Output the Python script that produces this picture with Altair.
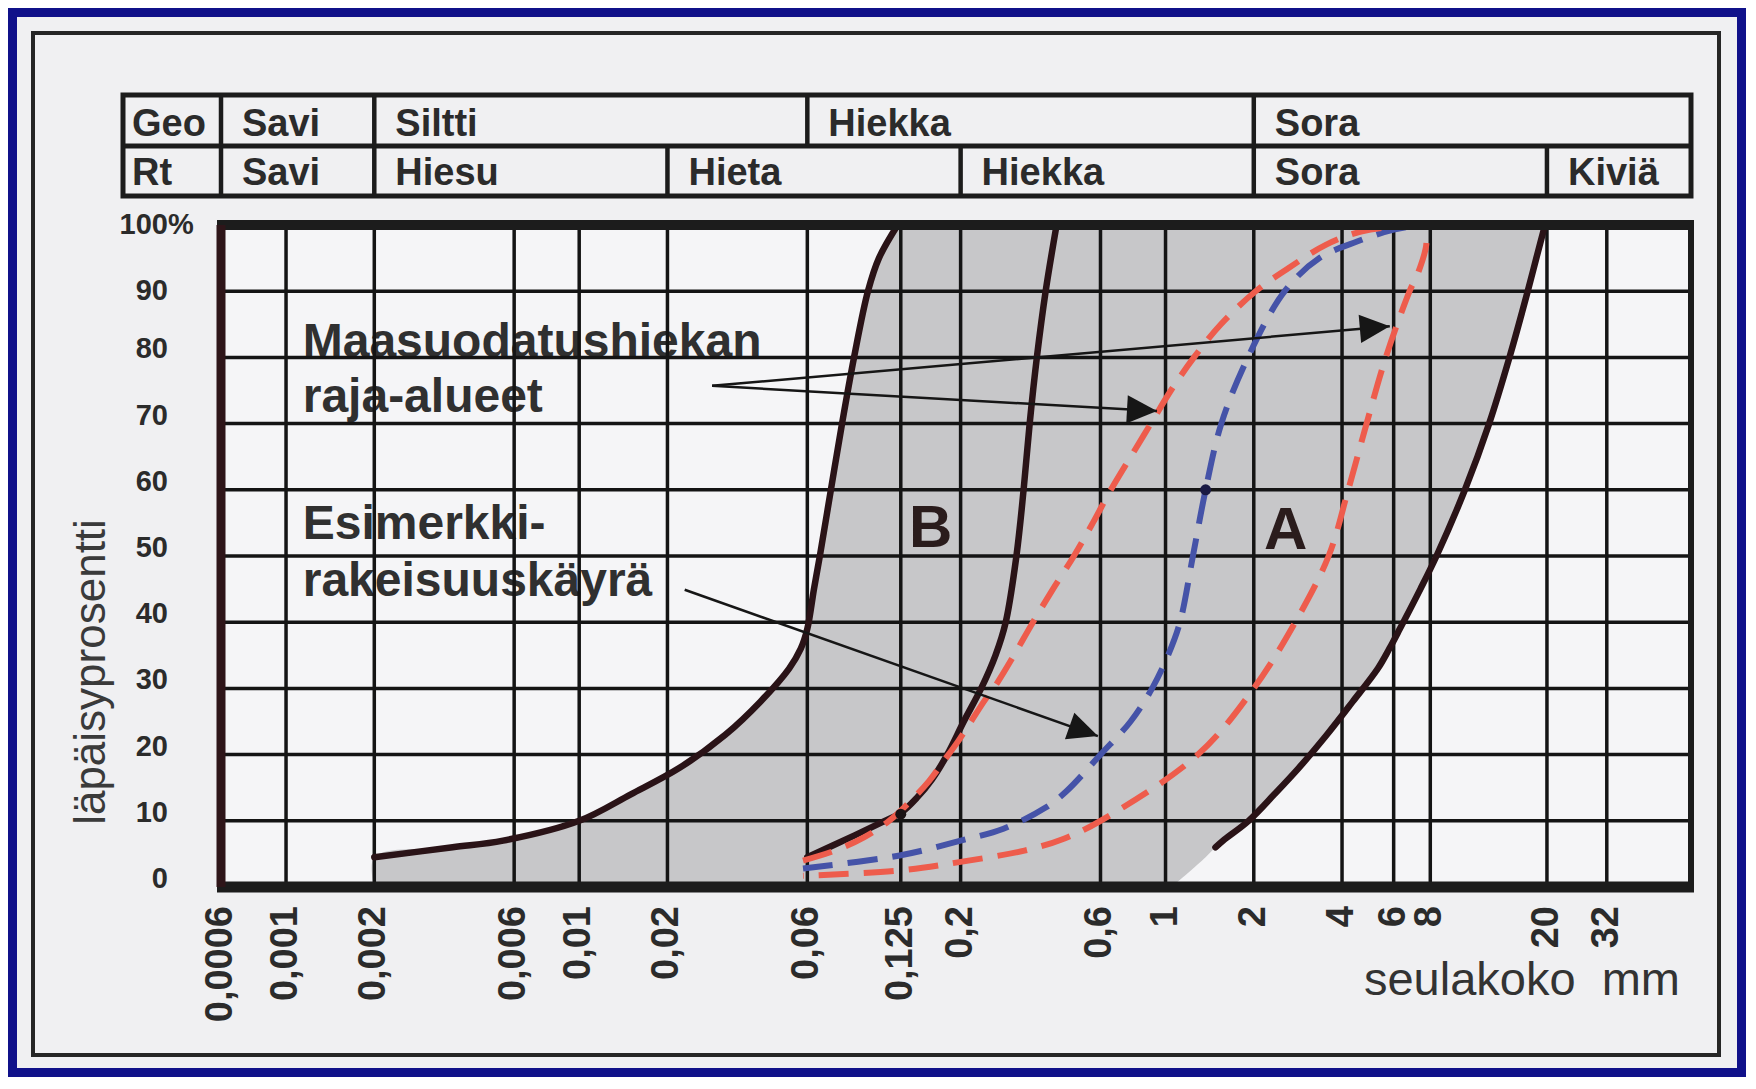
import math
import altair as alt
import pandas as pd

# ------------------------------------------------------------------ data
X_TICKS = [0.0006, 0.001, 0.002, 0.006, 0.01, 0.02, 0.06, 0.125, 0.2, 0.6,
           1, 2, 4, 6, 8, 20, 32]
X_TICK_LABELS = ["0,0006", "0,001", "0,002", "0,006", "0,01", "0,02", "0,06",
                 "0,125", "0,2", "0,6", "1", "2", "4", "6", "8", "20", "32"]
Y_TICKS = [0, 10, 20, 30, 40, 50, 60, 70, 80, 90, 100]
Y_TICK_LABELS = ["0", "10", "20", "30", "40", "50", "60", "70", "80", "90", "100"]
Y_GRID = [10, 20, 30, 40, 50, 60, 70, 80, 90]

GEO_LABELS = ["Savi", "Siltti", "Hiekka", "Sora"]
GEO_STARTS = [0.0006, 0.002, 0.06, 2]
RT_LABELS = ["Savi", "Hiesu", "Hieta", "Hiekka", "Sora", "Kiviä"]
RT_STARTS = [0.0006, 0.002, 0.02, 0.2, 2, 20]

# grey envelope: left and right boundary curves read at common percent levels
ENV_Y = [0, 4.5, 6, 7, 10, 14, 18, 23, 28, 33, 36, 39, 45, 50, 60, 70, 80, 90, 95, 100]
ENV_LEFT_X = [0.002, 0.002, 0.0037, 0.0055, 0.010, 0.015, 0.022, 0.0315, 0.0415,
              0.052, 0.057, 0.060, 0.0632, 0.0662, 0.0722, 0.0788, 0.0866,
              0.0966, 0.1053, 0.122]
ENV_RIGHT_X = [1.05, 1.37, 1.48, 1.57, 1.92, 2.35, 2.85, 3.55, 4.35, 5.3, 5.8,
               6.3, 7.4, 8.4, 10.5, 12.7, 14.9, 17.2, 18.4, 19.7]

# middle black curve (right limit of B)
MID_X = [0.06, 0.087, 0.108, 0.125, 0.142, 0.16, 0.18, 0.205, 0.235, 0.263,
         0.285, 0.31, 0.328, 0.344, 0.364, 0.39, 0.425]
MID_Y = [4.5, 7.8, 9.8, 11.2, 13.5, 16.3, 20, 25, 30, 35, 40, 50, 60, 70, 80, 90, 100]

# red dashed limits of area A (one loop: left limit up, right limit down)
RED_X = [0.058, 0.0745, 0.0936, 0.114, 0.135, 0.156, 0.175, 0.196, 0.217, 0.240,
         0.268, 0.304, 0.353, 0.413, 0.487, 0.565, 0.651, 0.761, 0.891, 1.043,
         1.25, 1.545, 2.03, 2.63, 3.52, 4.64, 6.35, 7.67, 7.75, 7.3, 6.8, 5.64,
         4.85, 4.2, 3.6, 2.77, 2.0, 1.29, 0.6, 0.45, 0.33, 0.2, 0.125, 0.058]
RED_Y = [4, 5.5, 7.5, 10, 13, 16, 19, 22, 25, 28, 31, 35, 40, 45, 50, 55, 60,
         65, 70, 75, 80, 85, 90, 93.5, 97, 99, 99.8, 99.6, 97, 93, 90, 80, 70,
         60, 50, 40, 30, 20, 10, 7.3, 5.5, 3.8, 2.5, 1.7]

# blue dashed example curve
BLUE_X = [0.058, 0.125, 0.2, 0.28, 0.39, 0.46, 0.6, 0.76, 0.90, 1.02, 1.12,
          1.24, 1.37, 1.55, 1.91, 2.55, 3.35, 4.5, 6.0, 7.5]
BLUE_Y = [2.8, 4.8, 7, 8.8, 12, 14.5, 20, 25, 30, 35, 40, 50, 60, 70, 80, 90,
          95, 97.5, 99.3, 100]

DOT_X = [0.125, 1.37]
DOT_Y = [11, 60]
DOT_COLORS = ["#1a1214", "#1a1a44"]

NOTE_TEXT = ["Maasuodatushiekan", "raja-alueet", "Esimerkki-", "rakeisuuskäyrä"]
NOTE_X = [0.00114, 0.00114, 0.00114, 0.00114]
NOTE_Y = [80, 71.75, 52.6, 43.95]

ARROW_X0 = [0.0284, 0.0284, 0.0229]
ARROW_Y0 = [75.7, 75.7, 44.9]
ARROW_X1 = [5.82, 0.935, 0.588]
ARROW_Y1 = [84.7, 71.9, 22.8]

AREA_LABELS = ["B", "A"]
AREA_X = [0.158, 2.57]
AREA_Y = [51.4, 51]

# ------------------------------------------------------------------ layout / style
W, H = 1470, 662
PAD_L, PAD_T, PAD_R, PAD_B = 213, 217, 55, 190
XDOM = [0.0006, 62]
FONT = "Liberation Sans"
INK = "#2b2b2b"
CURVE = "#2a1317"
RED = "#ee5c4c"
BLUE = "#4553a8"
GRID = "#141414"

xs = alt.Scale(type="log", domain=XDOM)
ys = alt.Scale(domain=[0, 100])


def X(f):
    return alt.X(f"{f}:Q", scale=xs, axis=None)


def Y(f):
    return alt.Y(f"{f}:Q", scale=ys, axis=None)


one = pd.DataFrame({"k": [0]})
layers = []

# outer blue border and black frame
layers.append(alt.Chart(one).mark_rect(fillOpacity=0, stroke="#10118a", strokeWidth=9).encode(
    x=alt.value(-PAD_L + 4.5), x2=alt.value(W + PAD_R - 4.5),
    y=alt.value(-PAD_T + 4.5), y2=alt.value(H + PAD_B - 4.5)))
layers.append(alt.Chart(one).mark_rect(fillOpacity=0, stroke="#262626", strokeWidth=4).encode(
    x=alt.value(-188), x2=alt.value(W + 28), y=alt.value(-192), y2=alt.value(H + 168)))

# header table
layers.append(alt.Chart(one).mark_rect(fillOpacity=0, stroke="#1c1c1c", strokeWidth=5).encode(
    x=alt.value(-98), x2=alt.value(W), y=alt.value(-130), y2=alt.value(-29)))
layers.append(alt.Chart(one).mark_rule(color="#1c1c1c", strokeWidth=5).encode(
    x=alt.value(-98), x2=alt.value(W), y=alt.value(-79)))
row1 = pd.DataFrame({"x": GEO_STARTS, "label": GEO_LABELS})
row2 = pd.DataFrame({"x": RT_STARTS, "label": RT_LABELS})
layers.append(alt.Chart(row1).mark_rule(color="#1c1c1c", strokeWidth=4.5).encode(
    x=X("x"), y=alt.value(-130), y2=alt.value(-79)))
layers.append(alt.Chart(row2).mark_rule(color="#1c1c1c", strokeWidth=4.5).encode(
    x=X("x"), y=alt.value(-79), y2=alt.value(-29)))
htxt = dict(align="left", baseline="alphabetic", font=FONT, fontSize=38,
            fontWeight="bold", color=INK)
layers.append(alt.Chart(row1).mark_text(dx=21, **htxt).encode(
    x=X("x"), y=alt.value(-89), text="label:N"))
layers.append(alt.Chart(row2).mark_text(dx=21, **htxt).encode(
    x=X("x"), y=alt.value(-40), text="label:N"))
layers.append(alt.Chart(pd.DataFrame({"t": ["Geo", "Rt"], "yy": [-89, -40]})).mark_text(**htxt).encode(
    x=alt.value(-89), y=alt.Y("yy:Q", scale=None), text="t:N"))

# grey envelope
env = pd.DataFrame({"y": ENV_Y, "xl": ENV_LEFT_X, "xr": ENV_RIGHT_X})
layers.append(alt.Chart(env).mark_area(orient="horizontal", color="#c7c7c9",
                                       interpolate="catmull-rom").encode(
    y=Y("y"), x=X("xl"), x2=alt.X2("xr")))

# annotation texts (under the grid, as in the original)
notes = pd.DataFrame({"x": NOTE_X, "y": NOTE_Y, "t": NOTE_TEXT})
layers.append(alt.Chart(notes).mark_text(align="left", baseline="alphabetic", font=FONT,
                                         fontSize=48, fontWeight="bold", color="#303030").encode(
    x=X("x"), y=Y("y"), text="t:N"))

# grid
layers.append(alt.Chart(pd.DataFrame({"x": X_TICKS[1:]})).mark_rule(color=GRID, strokeWidth=3.5).encode(
    x=X("x")))
layers.append(alt.Chart(pd.DataFrame({"y": Y_GRID})).mark_rule(color=GRID, strokeWidth=3.5).encode(
    y=Y("y")))

# area labels
areas = pd.DataFrame({"x": AREA_X, "y": AREA_Y, "t": AREA_LABELS})
layers.append(alt.Chart(areas).mark_text(align="center", baseline="alphabetic", font=FONT,
                                         fontSize=60, fontWeight="bold", color="#2a1c1c").encode(
    x=X("x"), y=Y("y"), text="t:N"))


def curve_df(cx, cy):
    return pd.DataFrame({"x": cx, "y": cy, "i": list(range(len(cx)))})


solid = dict(strokeWidth=6.5, color=CURVE, interpolate="catmull-rom", strokeCap="round")
layers.append(alt.Chart(curve_df(ENV_LEFT_X[1:], ENV_Y[1:])).mark_line(**solid).encode(
    x=X("x"), y=Y("y"), order="i:Q"))
layers.append(alt.Chart(curve_df(MID_X, MID_Y)).mark_line(**solid).encode(
    x=X("x"), y=Y("y"), order="i:Q"))
layers.append(alt.Chart(curve_df(ENV_RIGHT_X[2:], ENV_Y[2:])).mark_line(**solid).encode(
    x=X("x"), y=Y("y"), order="i:Q"))
dashed = dict(strokeWidth=6, interpolate="catmull-rom", strokeDash=[30, 15], strokeCap="butt")
layers.append(alt.Chart(curve_df(BLUE_X, BLUE_Y)).mark_line(color=BLUE, **dashed).encode(
    x=X("x"), y=Y("y"), order="i:Q"))
layers.append(alt.Chart(curve_df(RED_X, RED_Y)).mark_line(color=RED, **dashed).encode(
    x=X("x"), y=Y("y"), order="i:Q"))

# plot border
layers.append(alt.Chart(one).mark_rule(color="#1c1c1c", strokeWidth=10).encode(
    x=alt.value(-4), x2=alt.value(W + 3), y=alt.value(0)))
layers.append(alt.Chart(one).mark_rule(color="#1c1c1c", strokeWidth=11).encode(
    x=alt.value(-4), x2=alt.value(W + 3), y=alt.value(H)))
layers.append(alt.Chart(one).mark_rule(color="#2e1519", strokeWidth=9).encode(
    x=alt.value(0), y=alt.value(0), y2=alt.value(H)))
layers.append(alt.Chart(one).mark_rule(color="#1c1c1c", strokeWidth=6).encode(
    x=alt.value(W), y=alt.value(0), y2=alt.value(H)))

# dots
dots = pd.DataFrame({"x": DOT_X, "y": DOT_Y, "c": DOT_COLORS})
layers.append(alt.Chart(dots).mark_point(filled=True, size=120, opacity=1, strokeWidth=0).encode(
    x=X("x"), y=Y("y"), color=alt.Color("c:N", scale=None)))

# arrows
LOGSPAN = math.log10(XDOM[1] / XDOM[0])


def px(v):
    return W * math.log10(v / XDOM[0]) / LOGSPAN


def py(v):
    return H * (1 - v / 100)


angles = [math.degrees(math.atan2(py(b1) - py(b0), px(a1) - px(a0))) % 360
          for a0, b0, a1, b1 in zip(ARROW_X0, ARROW_Y0, ARROW_X1, ARROW_Y1)]
arrows = pd.DataFrame({"x0": ARROW_X0, "y0": ARROW_Y0, "x1": ARROW_X1, "y1": ARROW_Y1,
                       "ang": angles})
layers.append(alt.Chart(arrows).mark_rule(color="#161616", strokeWidth=2.5).encode(
    x=X("x0"), y=Y("y0"), x2=alt.X2("x1"), y2=alt.Y2("y1")))
layers.append(alt.Chart(arrows).mark_point(shape="M0,0L-1,-0.47L-1,0.47Z", size=3600,
                                           filled=True, opacity=1, color="#161616",
                                           strokeWidth=0).encode(
    x=X("x1"), y=Y("y1"), angle=alt.Angle("ang:Q", scale=None)))

# axis labels
ylab = pd.DataFrame({"y": Y_TICKS, "t": Y_TICK_LABELS})
ytxt = dict(baseline="middle", font=FONT, fontSize=29, fontWeight="bold", color=INK)
layers.append(alt.Chart(ylab).transform_filter("datum.y < 90").mark_text(
    align="right", dy=-8, **ytxt).encode(x=alt.value(-53), y=Y("y"), text="t:N"))
layers.append(alt.Chart(ylab).transform_filter("datum.y >= 90").mark_text(
    align="right", dy=0, **ytxt).encode(x=alt.value(-53), y=Y("y"), text="t:N"))
layers.append(alt.Chart(pd.DataFrame({"y": [100], "t": ["%"]})).mark_text(
    align="left", dy=0, **ytxt).encode(x=alt.value(-53), y=Y("y"), text="t:N"))
xlab = pd.DataFrame({"x": X_TICKS, "t": X_TICK_LABELS})
layers.append(alt.Chart(xlab).mark_text(angle=270, align="right", baseline="middle", font=FONT,
                                        fontSize=38, fontWeight="bold", color=INK).encode(
    x=X("x"), y=alt.value(H + 19), text="t:N"))
layers.append(alt.Chart(pd.DataFrame({"t": ["läpäisyprosentti"]})).mark_text(
    angle=270, align="center", baseline="alphabetic", font=FONT, fontSize=44,
    color="#3a3a3a").encode(x=alt.value(-116), y=alt.value(447), text="t:N"))
layers.append(alt.Chart(pd.DataFrame({"t": ["seulakoko\u00a0\u00a0mm"]})).mark_text(
    align="right", baseline="alphabetic", font=FONT, fontSize=47,
    color="#333333").encode(x=alt.value(1459), y=alt.value(770), text="t:N"))

chart = alt.layer(*layers).properties(
    width=W, height=H,
    autosize=alt.AutoSizeParams(type="none"),
    padding={"left": PAD_L, "top": PAD_T, "right": PAD_R, "bottom": PAD_B},
    background="#f0f0f2",
).configure_view(strokeWidth=0, fill="#f5f5f7")

chart.save("out.html", embed_options={"renderer": "svg", "actions": False})
